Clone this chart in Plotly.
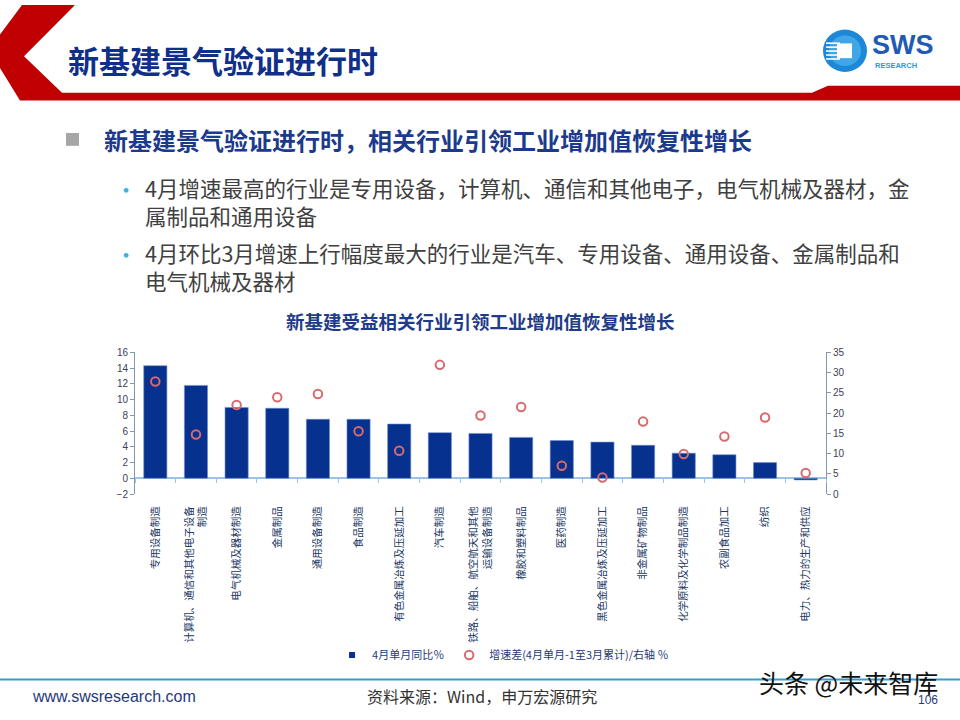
import plotly.graph_objects as go

# ---------------- data ----------------
categories = ["专用设备制造", "计算机、通信和其他电子设备制造", "电气机械及器材制造", "金属制品",
              "通用设备制造", "食品制造", "有色金属冶炼及压延加工", "汽车制造",
              "铁路、船舶、航空航天和其他运输设备制造", "橡胶和塑料制品", "医药制造",
              "黑色金属冶炼及压延加工", "非金属矿物制品", "化学原料及化学制品制造",
              "农副食品加工", "纺织", "电力、热力的生产和供应"]
tick_labels = ["专用设备制造", "计算机、通信和其他电子设备<br>制造", "电气机械及器材制造", "金属制品",
               "通用设备制造", "食品制造", "有色金属冶炼及压延加工", "汽车制造",
               "铁路、船舶、航空航天和其他<br>运输设备制造", "橡胶和塑料制品", "医药制造",
               "黑色金属冶炼及压延加工", "非金属矿物制品", "化学原料及化学制品制造",
               "农副食品加工", "纺织", "电力、热力的生产和供应"]
april_yoy = [14.3, 11.8, 9.0, 8.9, 7.5, 7.5, 6.9, 5.8, 5.7, 5.2, 4.8, 4.6, 4.2, 3.2, 3.0, 2.0, -0.2]
growth_diff = [27.8, 14.7, 22.0, 23.9, 24.7, 15.5, 10.7, 31.9, 19.4, 21.5, 7.0, 4.1, 17.9, 9.9, 14.2, 18.9, 5.2]
left_ticks = [-2, 0, 2, 4, 6, 8, 10, 12, 14, 16]
right_ticks = [0, 5, 10, 15, 20, 25, 30, 35]

series_bar = "4月单月同比％"
series_dot = "增速差(4月单月-1至3月累计)/右轴 ％"

W, H = 960, 720
def X(p): return p / W
def Y(p): return 1 - p / H

CJK = "Noto Sans CJK SC"
ARIAL = "Liberation Sans, Noto Sans CJK SC"
NAVY = "#1B3A8C"
AXIS_C = "#8497B0"
BAR_C = "#06318F"
DOT_C = "#D8696C"

fig = go.Figure()
fig.add_trace(go.Bar(
    x=categories, y=april_yoy, name=series_bar, showlegend=False,
    marker=dict(color=BAR_C, line=dict(color="#6F8FD0", width=0.6)),
    xaxis="x", yaxis="y",
))
# legend entry for the bars (small square key, as in the reference)
fig.add_trace(go.Scatter(
    x=[None], y=[None], name=series_bar, mode="markers",
    marker=dict(symbol="square", size=6, color=BAR_C), xaxis="x", yaxis="y",
))
fig.add_trace(go.Scatter(
    x=categories, y=growth_diff, name=series_dot, mode="markers",
    marker=dict(symbol="circle-open", size=8.5, color=DOT_C, line=dict(width=2, color=DOT_C)),
    xaxis="x2", yaxis="y2",
))

xd = [X(135), X(826)]
yd = [Y(496.7), Y(352.7)]

fig.update_layout(
    width=W, height=H,
    margin=dict(l=0, r=0, t=0, b=0),
    paper_bgcolor="white", plot_bgcolor="rgba(0,0,0,0)",
    bargap=0.43,
    showlegend=True,
    legend=dict(orientation="h", x=0.524, xanchor="center", y=Y(660), yanchor="middle",
                font=dict(family=CJK, size=11, color="#1F3A7A"), itemwidth=30,
                bgcolor="rgba(0,0,0,0)", traceorder="normal"),
    xaxis=dict(domain=xd, type="category", categoryorder="array", categoryarray=categories,
               range=[-0.5, len(categories) - 0.5], anchor="y",
               tickmode="array", tickvals=categories, ticktext=tick_labels,
               tickangle=-90, ticks="", showline=False, showgrid=False, ticklabelstandoff=9,
               tickfont=dict(family=CJK, size=10.5, color="#203864")),
    xaxis2=dict(domain=xd, type="category", categoryorder="array", categoryarray=categories,
                range=[-0.5, len(categories) - 0.5], overlaying="x", anchor="free",
                position=Y(480.7), side="bottom", showticklabels=False,
                ticks="outside", tickson="boundaries", ticklen=4, tickcolor="#9DC3E6",
                showline=False, showgrid=False),
    yaxis=dict(domain=yd, range=[-2, 16], tickmode="array", tickvals=left_ticks,
               showgrid=False, zeroline=True, zerolinecolor="#9DC3E6", zerolinewidth=1.5,
               showline=True, linecolor=AXIS_C, linewidth=1, ticks="outside", ticklen=4,
               tickcolor=AXIS_C, tickfont=dict(family=ARIAL, size=10, color="#3A4252"),
               anchor="x"),
    yaxis2=dict(domain=yd, range=[0, 35], tickmode="array", tickvals=right_ticks,
                overlaying="y", side="right", anchor="x2",
                showgrid=False, zeroline=False,
                showline=True, linecolor=AXIS_C, linewidth=1, ticks="outside", ticklen=4,
                tickcolor=AXIS_C, tickfont=dict(family=ARIAL, size=10, color="#3A4252")),
)

shapes = []
# red header chevron + band
pts = [(22, 0), (75, 0), (24, 52), (62, 89), (812, 89), (828, 82), (960, 82), (960, 97),
       (20, 97), (0, 64), (0, 30)]
path = "M " + " L ".join(f"{X(a):.5f},{Y(b):.5f}" for a, b in pts) + " Z"
shapes.append(dict(type="path", path=path, xref="paper", yref="paper",
                   fillcolor="#C00000", line=dict(width=0)))
# logo
shapes.append(dict(type="circle", xref="paper", yref="paper", x0=X(823), x1=X(867), y0=Y(68), y1=Y(25),
                   fillcolor="#1E88D8", line=dict(width=0)))
shapes.append(dict(type="circle", xref="paper", yref="paper", x0=X(829), x1=X(861), y0=Y(62), y1=Y(31),
                   fillcolor="#3FA6E8", line=dict(width=0)))
for yy in [38, 42, 46, 50, 54]:
    shapes.append(dict(type="rect", xref="paper", yref="paper", x0=X(826), x1=X(840), y0=Y(yy + 1.6), y1=Y(yy),
                       fillcolor="white", line=dict(width=0)))
shapes.append(dict(type="rect", xref="paper", yref="paper", x0=X(837), x1=X(852), y0=Y(54), y1=Y(39),
                   fillcolor="white", line=dict(width=0)))
# sub heading square
shapes.append(dict(type="rect", xref="paper", yref="paper", x0=X(66), x1=X(79), y0=Y(143), y1=Y(130),
                   fillcolor="#A6A6A6", line=dict(width=0)))
# footer line
shapes.append(dict(type="line", xref="paper", yref="paper", x0=0, x1=1, y0=Y(685), y1=Y(685),
                   line=dict(color="#31A0CE", width=2)))
fig.update_layout(shapes=shapes)

ann = []
def T(x, y, text, size, color, family=CJK, xanchor="left", yanchor="middle", bold=False):
    t = f"<b>{text}</b>" if bold else text
    ann.append(dict(x=X(x), y=Y(y), xref="paper", yref="paper", text=t, showarrow=False,
                    xanchor=xanchor, yanchor=yanchor, align="left",
                    font=dict(family=family, size=size, color=color)))

T(66, 55, "新基建景气验证进行时", 31, "#0F2F8A", bold=True)
T(870, 41, "SWS", 27, "#1F5BB5", family="Liberation Sans", bold=True)
T(873, 61, "RESEARCH", 7.5, "#2A9AD8", family="Liberation Sans", bold=True)
T(102, 137, "新基建景气验证进行时，相关行业引领工业增加值恢复性增长", 24, NAVY, bold=True)
T(113, 186, "•", 22, "#3CB0E0")
T(143, 168, "4月增速最高的行业是专用设备，计算机、通信和其他电子，电气机械及器材，金<br>属制品和通用设备",
  21.5, "#404040", yanchor="top")
T(113, 252, "•", 22, "#3CB0E0")
T(143, 234, "4月环比3月增速上行幅度最大的行业是汽车、专用设备、通用设备、金属制品和<br>电气机械及器材",
  21.5, "#404040", yanchor="top")
T(480, 321, "新基建受益相关行业引领工业增加值恢复性增长", 18.5, "#1F3C88", xanchor="center", bold=True)
T(30, 702, "www.swsresearch.com", 16, "#1F3A7A", family="Liberation Sans")
T(482, 702, "资料来源：Wind，申万宏源研究", 16, "#333333", xanchor="center")
T(940, 688, "头条 @未来智库", 25, "#111111", xanchor="right")
T(928, 706, "106", 12, "#1F3A7A", family="Liberation Sans", xanchor="center")
fig.update_layout(annotations=ann)

fig.write_html("out.html")
